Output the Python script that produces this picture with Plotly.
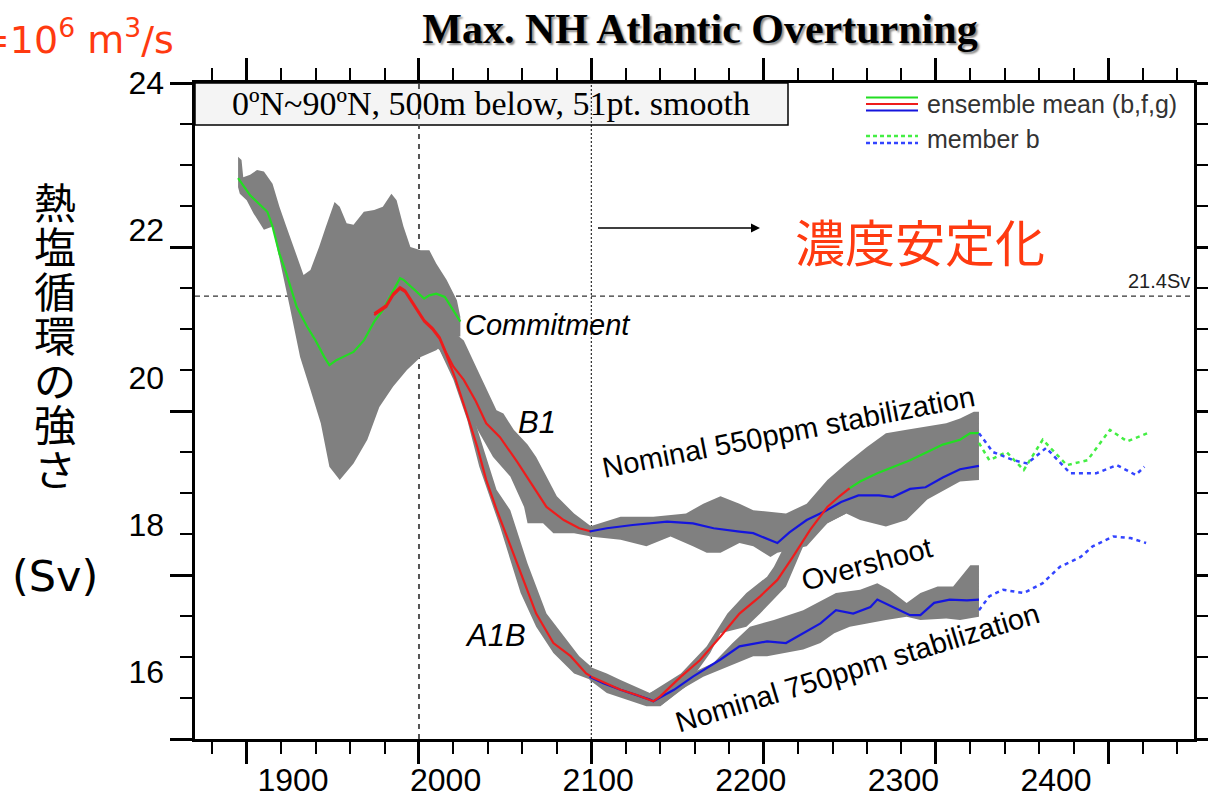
import plotly.graph_objects as go

# ---------------- data (year, Sv) ----------------
hist_year = [1895, 1902, 1912, 1915, 1919, 1923, 1929, 1935, 1940, 1945, 1948, 1952, 1956,
             1962, 1968, 1974, 1979, 1984, 1989, 1991, 1997, 2003, 2006, 2010, 2015, 2020, 2024]
hist_mean = [22.84, 22.63, 22.43, 22.25, 21.92, 21.68, 21.27, 21.03, 20.86, 20.66, 20.56, 20.62, 20.66,
             20.72, 20.86, 21.09, 21.23, 21.43, 21.62, 21.60, 21.49, 21.37, 21.41, 21.43, 21.39, 21.23, 21.09]

b1_year = [1974, 1981, 1985, 1989, 1992, 1997, 2003, 2008, 2012, 2016, 2020, 2026, 2033, 2039,
           2047, 2057, 2066, 2074, 2084, 2093, 2100]
b1_mean = [21.19, 21.29, 21.43, 21.51, 21.47, 21.31, 21.11, 21.01, 20.90, 20.70, 20.54, 20.38, 20.12, 19.85,
           19.68, 19.38, 19.08, 18.83, 18.67, 18.57, 18.53]

a1b_year = [1974, 1981, 1985, 1989, 1992, 1997, 2003, 2008, 2012, 2016, 2021, 2028, 2034, 2039,
            2045, 2051, 2059, 2068, 2078, 2088, 2097, 2100]
a1b_mean = [21.17, 21.27, 21.41, 21.49, 21.45, 21.29, 21.09, 20.99, 20.88, 20.68, 20.40, 19.95, 19.55, 19.16,
            18.80, 18.47, 18.02, 17.53, 17.17, 17.01, 16.80, 16.76]

over_year = [2100, 2117, 2126, 2136, 2140, 2152, 2163, 2175, 2186, 2198, 2208, 2217, 2227, 2237, 2244, 2250]
over_mean = [16.76, 16.60, 16.54, 16.46, 16.52, 16.76, 16.96, 17.25, 17.53, 17.74, 17.94, 18.22, 18.55, 18.83,
             18.96, 19.06]

over2_year = [2250, 2256, 2266, 2275, 2285, 2295, 2304, 2314, 2320, 2325]
over2_mean = [19.06, 19.14, 19.24, 19.32, 19.40, 19.50, 19.59, 19.65, 19.73, 19.73]

s550_year = [2099, 2109, 2124, 2144, 2159, 2171, 2186, 2194, 2208, 2215, 2225, 2235, 2245, 2255,
             2267, 2275, 2285, 2294, 2304, 2314, 2325]
s550_mean = [18.53, 18.57, 18.61, 18.65, 18.63, 18.57, 18.53, 18.51, 18.39, 18.52, 18.67, 18.77, 18.89, 18.97,
             18.97, 18.95, 19.05, 19.07, 19.19, 19.29, 19.33]

s750_year = [2099, 2107, 2117, 2126, 2134, 2136, 2148, 2159, 2175, 2186, 2202, 2213, 2223, 2233, 2242,
             2252, 2262, 2266, 2275, 2285, 2291, 2299, 2308, 2318, 2325]
s750_mean = [16.76, 16.68, 16.60, 16.54, 16.48, 16.46, 16.60, 16.76, 16.97, 17.13, 17.19, 17.17, 17.29, 17.41,
             17.57, 17.53, 17.61, 17.70, 17.61, 17.51, 17.51, 17.66, 17.70, 17.69, 17.70]

mb_green_year = [2325, 2331, 2341, 2351, 2362, 2376, 2388, 2401, 2411, 2423]
mb_green = [19.61, 19.40, 19.50, 19.28, 19.65, 19.34, 19.40, 19.77, 19.63, 19.73]
mb_blue550_year = [2325, 2333, 2345, 2353, 2364, 2378, 2393, 2405, 2416, 2421]
mb_blue550 = [19.73, 19.50, 19.40, 19.36, 19.55, 19.24, 19.24, 19.34, 19.22, 19.32]
mb_blue750_year = [2325, 2331, 2339, 2351, 2362, 2372, 2384, 2391, 2403, 2413, 2422]
mb_blue750 = [17.57, 17.74, 17.82, 17.78, 17.90, 18.10, 18.22, 18.35, 18.47, 18.45, 18.39]

# spread envelopes (upper edge left->right, lower edge right->left)
hist_up_year = [1895, 1897, 1898, 1902, 1906, 1910, 1915, 1919, 1923, 1929, 1933, 1937, 1942, 1946, 1951,
                1954, 1958, 1962, 1968, 1974, 1979, 1984, 1987, 1991, 1995, 2001, 2006, 2010, 2016, 2022, 2024]
hist_up = [23.10, 23.06, 22.85, 22.88, 22.94, 22.92, 22.77, 22.49, 22.25, 21.88, 21.66, 21.72, 22.00, 22.25, 22.55,
           22.49, 22.29, 22.27, 22.43, 22.45, 22.49, 22.65, 22.57, 22.25, 22.00, 21.96, 21.96, 21.80, 21.60, 21.35, 21.15]
hist_lo_year = [2024, 2020, 2010, 2001, 1993, 1985, 1977, 1970, 1962, 1954, 1948, 1943, 1937, 1931, 1925,
                1919, 1915, 1910, 1904, 1900, 1896, 1895]
hist_lo = [20.91, 20.91, 20.74, 20.66, 20.50, 20.30, 20.05, 19.65, 19.36, 19.16, 19.32, 19.85, 20.26, 20.66, 21.27,
           21.88, 22.25, 22.21, 22.41, 22.57, 22.65, 22.73]

b1_up_year = [2012, 2026, 2034, 2045, 2049, 2055, 2063, 2068, 2074, 2080, 2090, 2097, 2100]
b1_up = [21.11, 20.86, 20.50, 20.01, 19.97, 19.77, 19.59, 19.44, 19.20, 18.96, 18.75, 18.63, 18.59]
b1_lo_year = [2100, 2090, 2078, 2072, 2063, 2061, 2053, 2043, 2034, 2028, 2018, 2006]
b1_lo = [18.47, 18.51, 18.51, 18.63, 18.63, 18.83, 19.20, 19.44, 19.77, 20.07, 20.50, 20.99]

a1b_up_year = [2012, 2024, 2034, 2045, 2053, 2063, 2074, 2084, 2093, 2100]
a1b_up = [20.99, 20.50, 19.77, 19.04, 18.79, 18.14, 17.53, 17.25, 17.01, 16.88]
a1b_lo_year = [2100, 2090, 2078, 2068, 2059, 2047, 2035, 2028, 2020, 2012, 2006]
a1b_lo = [16.72, 16.80, 17.05, 17.37, 17.78, 18.59, 19.32, 19.89, 20.38, 20.74, 20.86]

s550_up_year = [2099, 2117, 2136, 2155, 2165, 2175, 2186, 2194, 2213, 2225, 2237, 2248, 2260, 2271,
                2283, 2295, 2306, 2314, 2322, 2325]
s550_up = [18.59, 18.71, 18.71, 18.75, 18.87, 18.96, 18.87, 18.79, 18.75, 18.87, 19.16, 19.36, 19.56, 19.73,
           19.77, 19.81, 19.85, 19.91, 19.99, 19.99]
s550_lo_year = [2325, 2314, 2295, 2283, 2271, 2256, 2248, 2237, 2225, 2208, 2204, 2194, 2186, 2175,
                2167, 2159, 2146, 2132, 2117, 2099]
s550_lo = [19.16, 19.14, 18.92, 18.67, 18.59, 18.67, 18.75, 18.63, 18.35, 18.27, 18.22, 18.35, 18.39, 18.27,
           18.27, 18.35, 18.47, 18.35, 18.43, 18.47]

over_up_year = [2134, 2152, 2167, 2179, 2190, 2202, 2206, 2213, 2225, 2237, 2248]
over_up = [16.56, 16.80, 17.13, 17.53, 17.78, 17.98, 18.10, 18.39, 18.67, 18.92, 19.10]
over_lo_year = [2248, 2237, 2223, 2213, 2198, 2190, 2175, 2169, 2155, 2140]
over_lo = [18.75, 18.63, 18.35, 17.86, 17.53, 17.37, 17.29, 17.05, 16.64, 16.40]

s750_up_year = [2099, 2109, 2117, 2126, 2134, 2171, 2182, 2192, 2206, 2223, 2231, 2242, 2256, 2266,
                2273, 2283, 2291, 2301, 2310, 2316, 2320, 2325]
s750_up = [16.88, 16.80, 16.72, 16.64, 16.56, 16.93, 17.17, 17.37, 17.45, 17.57, 17.66, 17.78, 17.82, 17.90,
           17.82, 17.66, 17.78, 17.86, 17.86, 18.02, 18.12, 18.12]
s750_lo_year = [2325, 2314, 2306, 2291, 2283, 2271, 2260, 2250, 2241, 2233, 2223, 2213, 2202, 2194,
                2179, 2165, 2152, 2140, 2132, 2121, 2109, 2099]
s750_lo = [17.49, 17.45, 17.47, 17.45, 17.49, 17.45, 17.41, 17.37, 17.29, 17.17, 17.09, 17.05, 17.01, 17.01,
           16.88, 16.76, 16.60, 16.40, 16.40, 16.48, 16.56, 16.72]

x_tick_labels = [1900, 2000, 2100, 2200, 2300, 2400]
y_tick_labels = [16, 18, 20, 22, 24]
ref_level = 21.4
ref_years = [2000, 2100]

# ---------------- styling ----------------
GRAY = "#808080"
GREEN = "#22dd22"
RED = "#ee1c1c"
BLUE = "#1515dd"
ORANGE = "#ff3a10"
SANS = "Liberation Sans, Arial, sans-serif"
SERIF = "Liberation Serif, Times New Roman, serif"
CJK = "Noto Sans CJK JP"

W, H = 1208, 796
L, R, T, B = 195, 14, 83, 57
PW, PH = W - L - R, H - T - B


def px(x):
    return (x - L) / PW


def py(y):
    return (H - B - y) / PH


fig = go.Figure()


def band(xu, yu, xl, yl):
    fig.add_trace(go.Scatter(x=xu + xl, y=yu + yl, mode="lines", fill="toself",
                             fillcolor=GRAY, line=dict(width=0, color=GRAY),
                             hoverinfo="skip", showlegend=False))


def line(x, y, color, dash="solid", width=2.2):
    fig.add_trace(go.Scatter(x=x, y=y, mode="lines",
                             line=dict(color=color, width=width, dash=dash),
                             hoverinfo="skip", showlegend=False))


band(hist_up_year, hist_up, hist_lo_year, hist_lo)
band(b1_up_year, b1_up, b1_lo_year, b1_lo)
band(a1b_up_year, a1b_up, a1b_lo_year, a1b_lo)
band(s550_up_year, s550_up, s550_lo_year, s550_lo)
band(over_up_year, over_up, over_lo_year, over_lo)
band(s750_up_year, s750_up, s750_lo_year, s750_lo)

line(hist_year, hist_mean, GREEN)
line(b1_year, b1_mean, RED)
line(a1b_year, a1b_mean, RED)
line(s550_year, s550_mean, BLUE)
line(s750_year, s750_mean, BLUE)
line(over_year, over_mean, RED)
line(over2_year, over2_mean, GREEN)
line(mb_green_year, mb_green, "#44ee44", dash="4px,4px", width=2.5)
line(mb_blue550_year, mb_blue550, "#3344ff", dash="4px,4px", width=2.5)
line(mb_blue750_year, mb_blue750, "#3344ff", dash="4px,4px", width=2.5)

# empty trace so the label axes exist
fig.add_trace(go.Scatter(x=[], y=[], xaxis="x2", yaxis="y2", showlegend=False))

shapes = [
    dict(type="rect", xref="x domain", yref="y domain", x0=0, x1=px(788), y0=py(125), y1=1,
         fillcolor="#f4f4f4", line=dict(color="black", width=1.5), layer="below"),
    dict(type="line", xref="x domain", yref="y", x0=0, x1=1, y0=ref_level, y1=ref_level,
         line=dict(color="#333333", width=1.2, dash="5px,4px"), layer="below"),
    dict(type="line", xref="x", yref="y domain", x0=ref_years[0], x1=ref_years[0], y0=0, y1=1,
         line=dict(color="#555555", width=2, dash="5px,5px"), layer="below"),
    dict(type="line", xref="x", yref="y domain", x0=ref_years[1], x1=ref_years[1], y0=0, y1=1,
         line=dict(color="black", width=1, dash="2px,2px"), layer="below"),
    # custom legend samples
    dict(type="line", xref="paper", yref="paper", x0=px(866), x1=px(918), y0=py(97.5), y1=py(97.5),
         line=dict(color=GREEN, width=2)),
    dict(type="line", xref="paper", yref="paper", x0=px(866), x1=px(918), y0=py(104), y1=py(104),
         line=dict(color=RED, width=2)),
    dict(type="line", xref="paper", yref="paper", x0=px(866), x1=px(918), y0=py(110.5), y1=py(110.5),
         line=dict(color=BLUE, width=2)),
    dict(type="line", xref="paper", yref="paper", x0=px(866), x1=px(918), y0=py(136), y1=py(136),
         line=dict(color="#44ee44", width=2.5, dash="4px,3px")),
    dict(type="line", xref="paper", yref="paper", x0=px(866), x1=px(918), y0=py(143), y1=py(143),
         line=dict(color="#3344ff", width=2.5, dash="4px,3px")),
]

ann = []


def text(x, y, s, size, color="black", family=SANS, angle=0, xanchor="center", italic=False, **kw):
    ann.append(dict(x=px(x), y=py(y), xref="paper", yref="paper", text=s, showarrow=False,
                    xanchor=xanchor, yanchor="middle", textangle=angle,
                    font=dict(size=size, color=color, family=family,
                              style="italic" if italic else "normal"), **kw))


text(491, 104, "0ºN~90ºN, 500m below, 51pt. smooth", 34, family=SERIF)
text(925, 104, "ensemble mean (b,f,g)", 25, color="#333333", xanchor="left")
text(925, 139, "member b", 25, color="#333333", xanchor="left")
text(1159, 281, "21.4Sv", 20, color="#222222")
text(548, 325, "Commitment", 29, italic=True)
text(537, 422, "B1", 31, italic=True)
text(495, 635, "A1B", 31, italic=True)
text(788, 432, "Nominal 550ppm stabilization", 29, angle=-11)
text(867, 564, "Overshoot", 29, angle=-15)
text(857, 668, "Nominal 750ppm stabilization", 29, angle=-17)
text(920, 240, "濃度安定化", 50, color=ORANGE, family=CJK)
text(176, 37, "=10<sup>6</sup> m<sup>3</sup>/s", 38, color=ORANGE, family="DejaVu Sans", xanchor="right")

for i, ch in enumerate(["熱", "塩", "循", "環", "の", "強", "さ"]):
    text(55, 200 + i * 44.5, ch, 42, family=CJK)
text(55, 576, "(Sv)", 43, family="DejaVu Sans")

# arrow
ann.append(dict(x=px(760), y=py(228), ax=-165, ay=0, xref="paper", yref="paper",
                axref="pixel", ayref="pixel", showarrow=True, arrowhead=2, arrowsize=1.2,
                arrowwidth=1.5, arrowcolor="black", text=" "))

fig.update_layout(
    width=W, height=H, margin=dict(l=L, r=R, t=T, b=B, autoexpand=False),
    paper_bgcolor="white", plot_bgcolor="white", showlegend=False,
    title=dict(text="Max. NH Atlantic Overturning", x=700 / W, xanchor="center",
               y=1 - 28 / H, yanchor="middle", xref="container", yref="container",
               font=dict(family=SERIF, size=42, color="black", weight="bold",
                         shadow="2px 2px 2px #8a8a8a")),
    xaxis=dict(range=[1870.0, 2449.8], tickmode="linear", tick0=1900, dtick=100,
               ticks="outside", ticklen=22, tickwidth=2.5, tickcolor="black",
               showline=True, linewidth=3, linecolor="black", mirror="ticks",
               showticklabels=False, showgrid=False, zeroline=False, automargin=False,
               minor=dict(dtick=20, ticks="outside", ticklen=12, tickwidth=2, tickcolor="black",
                          showgrid=False)),
    yaxis=dict(range=[16, 24], tickmode="linear", tick0=16, dtick=2,
               ticks="outside", ticklen=22, tickwidth=2.5, tickcolor="black",
               showline=True, linewidth=3, linecolor="black", mirror="ticks",
               showticklabels=False, showgrid=False, zeroline=False, automargin=False,
               minor=dict(dtick=0.5, ticks="outside", ticklen=12, tickwidth=2, tickcolor="black",
                          showgrid=False)),
    xaxis2=dict(overlaying="x", anchor="y", side="bottom", range=[1835.78, 2490.43],
                tickmode="array", tickvals=x_tick_labels, ticks="", showline=False,
                showgrid=False, zeroline=False, ticklabelstandoff=19, automargin=False,
                tickfont=dict(family=SANS, size=32, color="black")),
    yaxis2=dict(overlaying="y", anchor="x", side="left", range=[15.083, 24.001],
                tickmode="array", tickvals=y_tick_labels, ticks="", showline=False,
                showgrid=False, zeroline=False, ticklabelstandoff=30, automargin=False,
                tickfont=dict(family=SANS, size=32, color="black")),
    shapes=shapes, annotations=ann,
)

fig.write_html("out.html", config={"displayModeBar": False},
               post_script="document.body.style.margin='0px'; document.body.style.overflow='hidden';")
